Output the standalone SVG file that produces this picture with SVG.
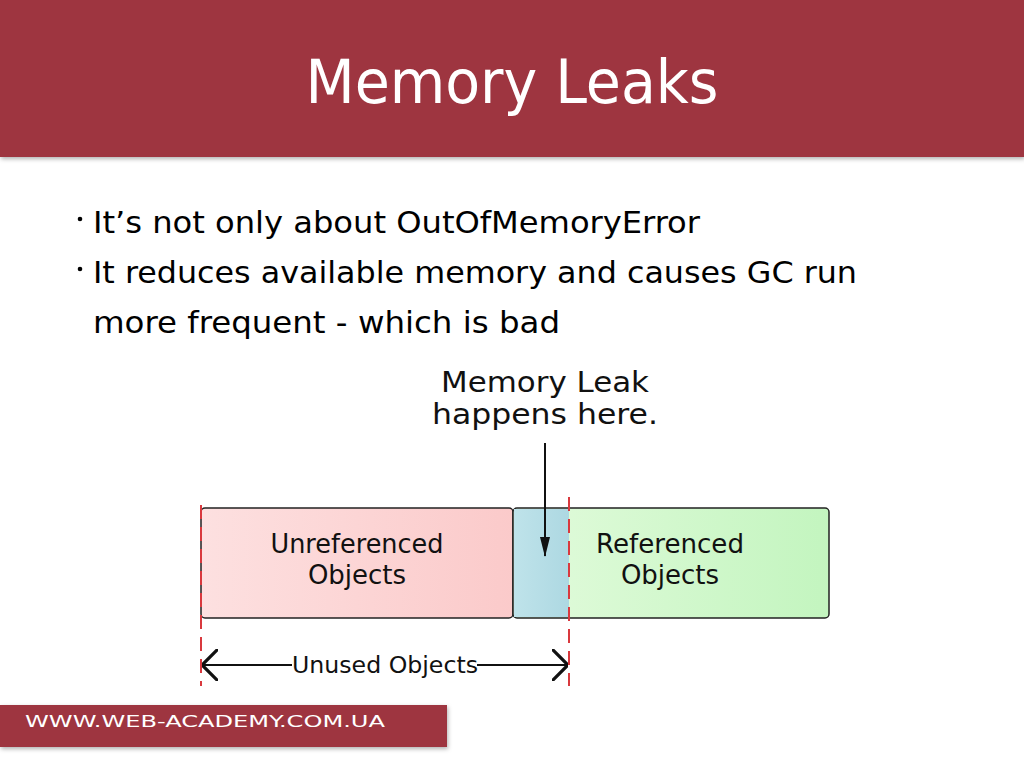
<svg xmlns="http://www.w3.org/2000/svg" width="1024" height="768" viewBox="0 0 1024 768">
<style>
.title{font-family:"DejaVu Sans Condensed","DejaVu Sans",sans-serif;fill:#fff}
.bul{font-family:"DejaVu Sans Condensed","DejaVu Sans",sans-serif;fill:#000;font-size:30px}
.lbl{font-family:"DejaVu Sans","Liberation Sans",sans-serif;fill:#111;text-anchor:middle}
.dash{stroke:#d9393e;stroke-width:2;stroke-dasharray:14,8;fill:none}
.conn{stroke:#111;stroke-width:2;fill:none}
</style>
<defs>
<linearGradient id="gRed" x1="0" y1="0" x2="1" y2="0"><stop offset="0" stop-color="#fde0e0"/><stop offset="1" stop-color="#fbcaca"/></linearGradient>
<linearGradient id="gGreen" x1="0" y1="0" x2="1" y2="0"><stop offset="0" stop-color="#e2fbdc"/><stop offset="1" stop-color="#c3f5bf"/></linearGradient>
<linearGradient id="gBlue" x1="0" y1="0" x2="1" y2="0"><stop offset="0" stop-color="#bfe3ea"/><stop offset="1" stop-color="#add8e2"/></linearGradient>
<marker id="ah" viewBox="0 0 20 10" refX="19" refY="5" markerWidth="22" markerHeight="10" orient="auto" markerUnits="userSpaceOnUse"><path d="M0,0 L20,5 L0,10 Z" fill="#111"/></marker>
<marker id="open" viewBox="0 0 10 20" refX="10" refY="10" markerWidth="16" markerHeight="32" orient="auto-start-reverse" markerUnits="userSpaceOnUse"><path d="M0,0 L10,10 L0,20" fill="none" stroke="#111" stroke-width="2"/></marker>
<filter id="sh" x="-5%" y="-20%" width="110%" height="150%"><feDropShadow dx="1" dy="2" stdDeviation="2" flood-color="#000" flood-opacity="0.3"/></filter>
</defs>
<rect width="1024" height="768" fill="#fff"/>
<g id="header">
<rect x="0" y="0" width="1024" height="157" fill="#9e3540" filter="url(#sh)"/>
<text class="title" x="512" y="103" font-size="60" text-anchor="middle" textLength="413" lengthAdjust="spacingAndGlyphs">Memory Leaks</text>
</g>
<g id="bullets">
<circle cx="80" cy="219" r="2.3" fill="#000"/>
<text class="bul" x="93" y="233" textLength="607" lengthAdjust="spacingAndGlyphs">It’s not only about OutOfMemoryError</text>
<circle cx="80" cy="269" r="2.3" fill="#000"/>
<text class="bul" x="93" y="283" textLength="764" lengthAdjust="spacingAndGlyphs">It reduces available memory and causes GC run</text>
<text class="bul" x="93" y="333" textLength="467" lengthAdjust="spacingAndGlyphs">more frequent - which is bad</text>
</g>
<g id="diagram">
<g id="unreferenced">
<rect x="201" y="508" width="312" height="110" rx="4" fill="url(#gRed)" stroke="#222" stroke-width="1.5"/>
<text class="lbl" x="357" y="553" font-size="26" textLength="173" lengthAdjust="spacingAndGlyphs">Unreferenced</text>
<text class="lbl" x="357" y="584" font-size="26">Objects</text>
</g>
<g id="referenced">
<rect x="513" y="508" width="316" height="110" rx="4" fill="url(#gGreen)" stroke="#222" stroke-width="1.5"/>
<path d="M514,509 H569 V617 H514 Z" fill="url(#gBlue)"/>
<text class="lbl" x="670" y="553" font-size="26" textLength="148" lengthAdjust="spacingAndGlyphs">Referenced</text>
<text class="lbl" x="670" y="584" font-size="26">Objects</text>
</g>
<g id="leak-label">
<text class="lbl" x="545" y="392" font-size="29" textLength="208" lengthAdjust="spacingAndGlyphs">Memory Leak</text>
<text class="lbl" x="545" y="424" font-size="29" textLength="226" lengthAdjust="spacingAndGlyphs">happens here.</text>
</g>
<g id="connectors">
<line class="dash" x1="201" y1="505" x2="201" y2="686"/>
<line class="dash" x1="569" y1="497" x2="569" y2="686"/>
<line class="conn" x1="545" y1="443" x2="545" y2="556" marker-end="url(#ah)"/>
<line class="conn" x1="202" y1="665" x2="292" y2="665" marker-start="url(#open)"/>
<line class="conn" x1="477" y1="665" x2="568" y2="665" marker-end="url(#open)"/>
<text class="lbl" x="385" y="673" font-size="23" textLength="186" lengthAdjust="spacingAndGlyphs">Unused Objects</text>
</g>
</g>
<g id="footer">
<rect x="0" y="705" width="447" height="42" fill="#9e3540" filter="url(#sh)"/>
<text x="25" y="727" font-family="DejaVu Sans,sans-serif" font-size="16" fill="#fff" textLength="360" lengthAdjust="spacingAndGlyphs">WWW.WEB-ACADEMY.COM.UA</text>
</g>
</svg>
